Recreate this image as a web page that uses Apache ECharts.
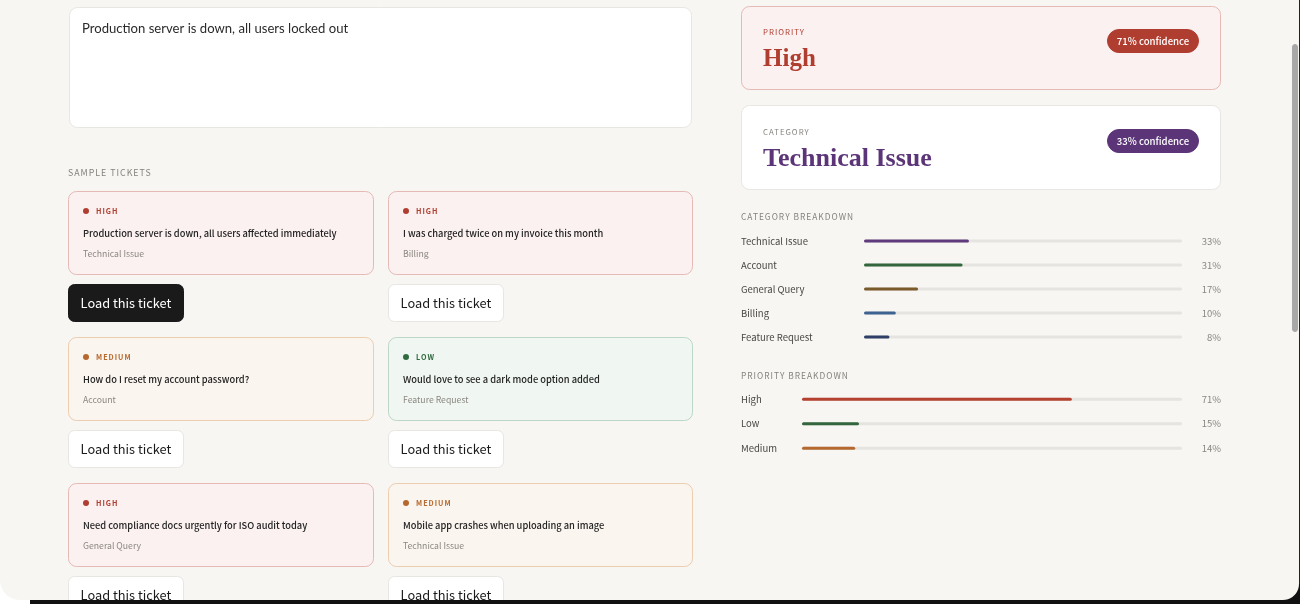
<!DOCTYPE html>
<html>
<head>
<meta charset="utf-8">
<style>html,body{margin:0;padding:0;background:#f7f6f3}#main{width:1300px;height:604px}</style>
<script src="https://cdn.jsdelivr.net/npm/echarts@6/dist/echarts.min.js"></script>
</head>
<body>
<div id="main"></div>
<script>
// values
const categoryNames = ['Technical Issue', 'Account', 'General Query', 'Billing', 'Feature Request']
const categoryValues = [33, 31, 17, 10, 8]
const priorityNames = ['High', 'Low', 'Medium']
const priorityValues = [71, 15, 14]

const inputText = 'Production server is down, all users locked out'
const ticketLevels = ['High', 'High', 'Medium', 'Low', 'High', 'Medium']
const ticketTexts = [
  'Production server is down, all users affected immediately',
  'I was charged twice on my invoice this month',
  'How do I reset my account password?',
  'Would love to see a dark mode option added',
  'Need compliance docs urgently for ISO audit today',
  'Mobile app crashes when uploading an image'
]
const ticketCategories = ['Technical Issue', 'Billing', 'Account', 'Feature Request', 'General Query', 'Technical Issue']

const categoryColors = ['#5f3a7d', '#33663d', '#7a5a2b', '#3f6391', '#2f3e66']
const priorityColors = ['#b5402f', '#33663d', '#b5692e']
const levelStyles = {
  High: {bg: '#fbf1f0', border: '#e6b9b4', color: '#b03e30'},
  Medium: {bg: '#fbf5ef', border: '#eccdae', color: '#b5692e'},
  Low: {bg: '#f0f6f2', border: '#bcd6c7', color: '#2f6b3f'}
}

const SANS = '"Noto Sans CJK SC", "Noto Sans", sans-serif'
const SERIF = '"Liberation Serif", serif'
const graphics = []

function box(x, y, w, h, fill, stroke, r) {
  graphics.push({
    type: 'rect', silent: true,
    shape: {x: x + 0.5, y: y + 0.5, width: w - 1, height: h - 1, r: r},
    style: {fill: fill, stroke: stroke, lineWidth: 1}
  })
}

function label(x, y, text, size, color, extra) {
  graphics.push(Object.assign({
    type: 'text', silent: true, x: x, y: y,
    style: Object.assign({
      text: text, fontSize: size, fill: color, fontFamily: SANS,
      verticalAlign: 'middle', align: 'left'
    }, extra && extra.style)
  }, extra && extra.el))
}

// small caps style labels go on their own layer, letter spaced below
function spaced(x, y, text, size, color, weight) {
  label(x, y, text, size, color, {el: {zlevel: 1}, style: {fontWeight: weight || 400}})
}

// points of a quarter circle, for the window corners
function corner(cx, cy, r, from, to) {
  const pts = []
  for (let i = 0; i <= 10; i++) {
    const a = (from + (to - from) * i / 10) * Math.PI / 180
    pts.push([cx + r * Math.cos(a), cy + r * Math.sin(a)])
  }
  return pts
}

// text box
box(69, 7, 623, 121, '#fff', '#e8e6e2', 8)
label(82, 28.5, inputText, 13.1, '#2a2a2a', {style: {fontFamily: 'Lato, sans-serif'}})

// sample tickets
spaced(68, 172.5, 'SAMPLE TICKETS', 8.8, '#85827c')
ticketTexts.forEach((text, i) => {
  const x = i % 2 ? 388 : 68
  const y = 191 + Math.floor(i / 2) * 146
  const level = ticketLevels[i]
  const st = levelStyles[level]
  box(x, y, i % 2 ? 305 : 306, 84, st.bg, st.border, 8)
  graphics.push({
    type: 'circle', silent: true,
    shape: {cx: x + 18, cy: y + 20, r: 3},
    style: {fill: st.color}
  })
  spaced(x + 28, y + 20, level.toUpperCase(), 7.2, st.color, 700)
  label(x + 15, y + 42, text, 9.3, '#222', {style: {fontWeight: 500}})
  label(x + 15, y + 63, ticketCategories[i], 8.7, '#8a8781')
  const active = i === 0
  box(x, y + 93, 116, 38, active ? '#1a1a1a' : '#fff', active ? '#1a1a1a' : '#e8e6e2', 6)
  label(x + 58, y + 112, 'Load this ticket', 12.8, active ? '#fff' : '#1a1a1a', {style: {align: 'center'}})
})

// result cards
const high = levelStyles.High
box(741, 6, 480, 84, high.bg, high.border, 8)
spaced(763, 32, 'PRIORITY', 7.8, high.color)
label(763, 60, 'High', 25, high.color, {style: {fontFamily: SERIF, fontWeight: 'bold'}})
box(1107, 29, 92, 24, high.color, high.color, 12)
label(1153, 41, '71% confidence', 9.6, '#fff', {style: {align: 'center', fontWeight: 500}})

box(741, 105, 480, 85, '#fff', '#e8e6e2', 8)
spaced(763, 132, 'CATEGORY', 7.8, '#85827c')
label(763, 159, 'Technical Issue', 26, '#5c3578', {style: {fontFamily: SERIF, fontWeight: 'bold'}})
box(1107, 129, 92, 24, '#5c3578', '#5c3578', 12)
label(1153, 141, '33% confidence', 9.6, '#fff', {style: {align: 'center', fontWeight: 500}})

spaced(741, 216.5, 'CATEGORY BREAKDOWN', 8.4, '#85827c')
spaced(741, 375.5, 'PRIORITY BREAKDOWN', 8.4, '#85827c')

// scrollbar and the edge of the window
box(1292, 44, 6, 288, '#a8a8a8', '#a8a8a8', 3)
graphics.push(
  {type: 'rect', silent: true, z: 50, shape: {x: 1299, y: 0, width: 1, height: 604}, style: {fill: '#222'}},
  {type: 'rect', silent: true, z: 50, shape: {x: 30, y: 600, width: 1270, height: 4}, style: {fill: '#111'}},
  {type: 'polygon', silent: true, z: 50, shape: {points: corner(1283, 584, 16, 90, 0).concat([[1300, 584], [1300, 604], [1283, 604]])}, style: {fill: '#111'}},
  {type: 'polygon', silent: true, z: 51, shape: {points: corner(20, 580, 20, 180, 90).concat([[30, 600], [30, 604], [0, 604]])}, style: {fill: '#fff'}}
)

function barGrid(top, height, left) {
  return {left: left, width: 1182 - left, top: top, height: height, containLabel: false}
}

function rowAxes(names, values, gridIndex, margin) {
  const base = {
    type: 'category', inverse: true, gridIndex: gridIndex,
    axisLine: {show: false}, axisTick: {show: false}, splitLine: {show: false}
  }
  return [
    Object.assign({}, base, {
      data: names,
      axisLabel: {align: 'left', margin: margin, fontSize: 9.5, color: '#4a4742', fontFamily: SANS}
    }),
    Object.assign({}, base, {
      position: 'right',
      data: values.map(v => v + '%'),
      axisLabel: {align: 'right', margin: 39, fontSize: 9.5, color: '#8a8781', fontFamily: SANS}
    })
  ]
}

function barSeries(values, colors, axisIndex) {
  return {
    type: 'bar', xAxisIndex: axisIndex, yAxisIndex: axisIndex * 2,
    data: values.map((v, i) => ({value: v, itemStyle: {color: colors[i]}})),
    barWidth: 3, silent: true,
    itemStyle: {borderRadius: 2},
    showBackground: true,
    backgroundStyle: {color: '#e6e4e0', borderRadius: 2}
  }
}

const valueAxis = {
  type: 'value', min: 0, max: 100, show: false, splitLine: {show: false}
}

const chart = echarts.init(document.getElementById('main'))
chart.setOption({
  animation: false,
  backgroundColor: '#f7f6f3',
  tooltip: {show: false},
  grid: [barGrid(229, 120, 864), barGrid(387, 73.5, 802)],
  xAxis: [Object.assign({gridIndex: 0}, valueAxis), Object.assign({gridIndex: 1}, valueAxis)],
  yAxis: rowAxes(categoryNames, categoryValues, 0, 123).concat(rowAxes(priorityNames, priorityValues, 1, 61)),
  series: [barSeries(categoryValues, categoryColors, 0), barSeries(priorityValues, priorityColors, 1)],
  graphic: {elements: graphics}
})

// zrender has no letter spacing, so set it on the canvas of layer 1 and repaint
const canvases = document.querySelectorAll('#main canvas')
if (canvases.length > 1) {
  canvases[canvases.length - 1].getContext('2d').letterSpacing = '1px'
  chart.getZr().painter.refresh(true)
}
</script>
</body>
</html>
